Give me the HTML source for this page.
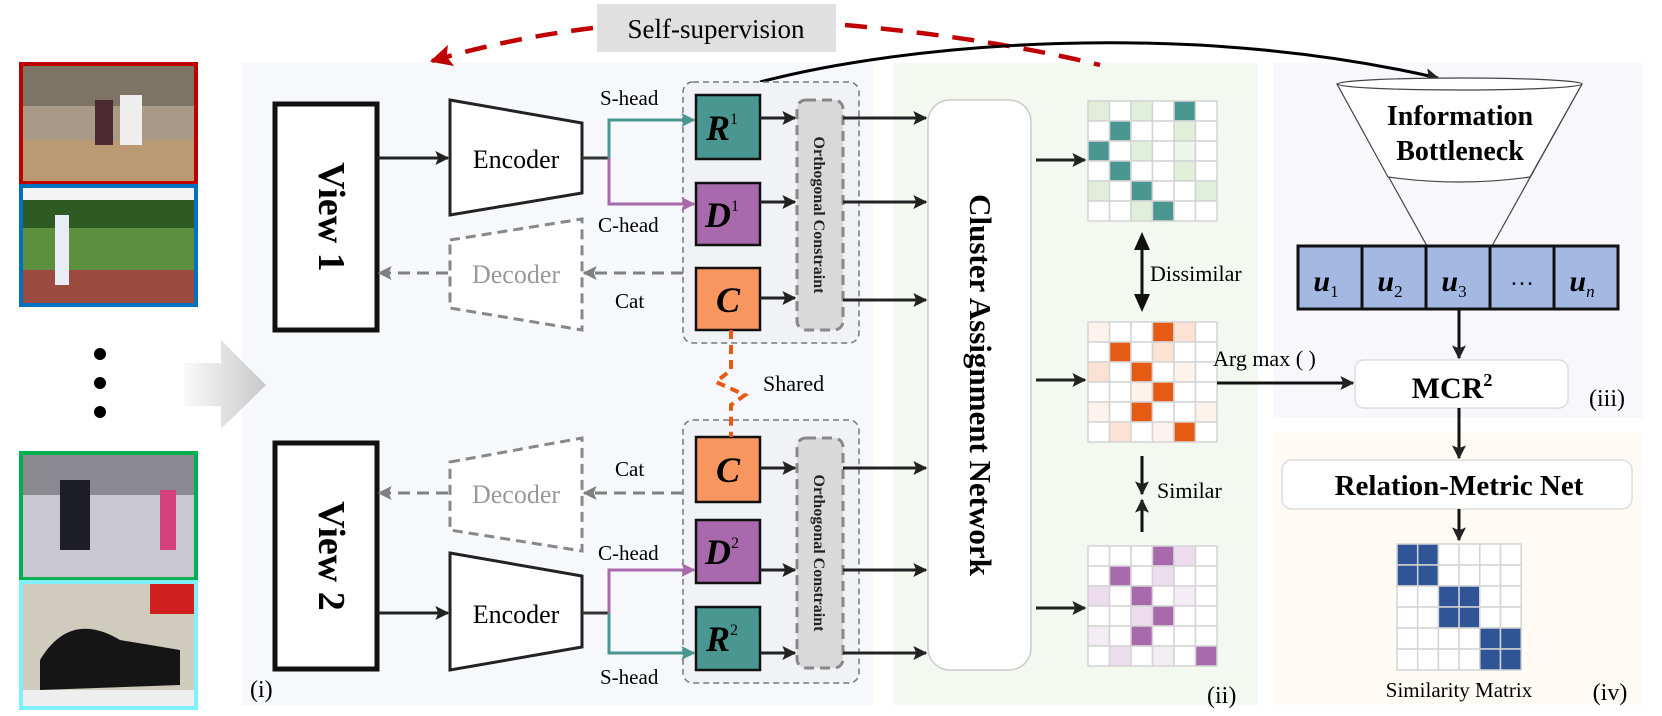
<!DOCTYPE html>
<html><head><meta charset="utf-8"><style>
html,body{margin:0;padding:0;background:#fff}
svg{display:block}
text{font-family:"Liberation Serif","DejaVu Serif",serif}
</style></head><body>
<svg width="1662" height="716" viewBox="0 0 1662 716" xmlns="http://www.w3.org/2000/svg" font-family="Liberation Serif, DejaVu Serif, serif">
<defs>
<marker id="ak" viewBox="0 0 10 10" markerWidth="16" markerHeight="14" refX="9" refY="5" orient="auto" markerUnits="userSpaceOnUse"><path d="M0,0 L10,5 L0,10 L2,5 Z" fill="#222"/></marker>
<marker id="ag" viewBox="0 0 10 10" markerWidth="16" markerHeight="14" refX="9" refY="5" orient="auto" markerUnits="userSpaceOnUse"><path d="M0,0 L10,5 L0,10 L2,5 Z" fill="#808080"/></marker>
<marker id="at" viewBox="0 0 10 10" markerWidth="16" markerHeight="14" refX="9" refY="5" orient="auto" markerUnits="userSpaceOnUse"><path d="M0,0 L10,5 L0,10 L2,5 Z" fill="#4a9690"/></marker>
<marker id="ap" viewBox="0 0 10 10" markerWidth="16" markerHeight="14" refX="9" refY="5" orient="auto" markerUnits="userSpaceOnUse"><path d="M0,0 L10,5 L0,10 L2,5 Z" fill="#a86aad"/></marker>
<marker id="ar" viewBox="0 0 10 10" markerWidth="26" markerHeight="22" refX="9" refY="5" orient="auto" markerUnits="userSpaceOnUse"><path d="M0,0 L10,5 L0,10 L2,5 Z" fill="#c00000"/></marker>
<linearGradient id="gg" x1="0" x2="1"><stop offset="0" stop-color="#fafafa"/><stop offset="1" stop-color="#c8c8c8"/></linearGradient>
</defs>

<rect x="242" y="63" width="631" height="642" fill="#f6f8fc"/>
<rect x="893" y="63" width="365" height="642" fill="#f3f8f0"/>
<rect x="1273" y="63" width="370" height="355" fill="#f8f7fc"/>
<rect x="1273" y="433" width="370" height="272" fill="#fffbf4"/>

<rect x="21" y="64" width="175" height="119" fill="#a89a86" stroke="#c00000" stroke-width="4"/>
<rect x="23" y="66" width="171" height="40" fill="#7d7466"/>
<rect x="23" y="140" width="171" height="41" fill="#b99a72"/>
<rect x="120" y="95" width="22" height="50" fill="#eee"/><rect x="95" y="100" width="18" height="45" fill="#4a2a30"/>
<rect x="21" y="186" width="175" height="119" fill="#5c8f3e" stroke="#0070c0" stroke-width="4"/>
<rect x="23" y="188" width="171" height="12" fill="#f4f4f4"/><rect x="23" y="200" width="171" height="28" fill="#2f5a24"/>
<rect x="23" y="270" width="171" height="33" fill="#9a4a3e"/><rect x="55" y="215" width="14" height="70" fill="#e8ecf4"/>
<rect x="21" y="453" width="175" height="126" fill="#c9c8d0" stroke="#00b050" stroke-width="4"/>
<rect x="23" y="455" width="171" height="40" fill="#8b8a90"/><rect x="60" y="480" width="30" height="70" fill="#1e1e26"/><rect x="160" y="490" width="16" height="60" fill="#d4407a"/>
<rect x="21" y="582" width="175" height="126" fill="#cfcbbd" stroke="#7ff0ff" stroke-width="4"/>
<rect x="150" y="584" width="44" height="30" fill="#d02020"/><path d="M40,660 Q70,610 120,640 L180,650 L180,685 L40,690 Z" fill="#151515"/><rect x="23" y="690" width="171" height="16" fill="#eeeeee"/>
<circle cx="100" cy="354" r="6" fill="#000"/><circle cx="100" cy="383" r="6" fill="#000"/><circle cx="100" cy="412" r="6" fill="#000"/>
<path d="M184,363 L221,363 L221,340 L266,385 L221,429 L221,406 L184,406 Z" fill="url(#gg)"/>

<rect x="597" y="4" width="239" height="48" fill="#e0e0e0"/>
<text x="716" y="38" font-size="27" text-anchor="middle">Self-supervision</text>
<path d="M593,28 Q510,38 432,61" fill="none" stroke="#c00000" stroke-width="4.5" stroke-dasharray="22,14" marker-end="url(#ar)"/>
<path d="M845,25 Q990,38 1100,65" fill="none" stroke="#c00000" stroke-width="4.5" stroke-dasharray="22,14"/>
<path d="M760,82 C900,45 1180,18 1438,78" fill="none" stroke="#000" stroke-width="3" marker-end="url(#ak)"/>

<rect x="275" y="104" width="102" height="226" fill="#fff" stroke="#111" stroke-width="5"/>
<text transform="translate(319,217) rotate(90)" font-size="38" font-weight="bold" text-anchor="middle">View 1</text>
<rect x="275" y="443" width="102" height="226" fill="#fff" stroke="#111" stroke-width="5"/>
<text transform="translate(319,556) rotate(90)" font-size="38" font-weight="bold" text-anchor="middle">View 2</text>

<path d="M450,100 L582,123 L582,193 L450,215 Z" fill="#fff" stroke="#222" stroke-width="3"/>
<text x="516" y="168" font-size="26" text-anchor="middle">Encoder</text>
<path d="M450,240 L582,219 L582,330 L450,308 Z" fill="#fff" stroke="#888" stroke-width="3" stroke-dasharray="10,6"/>
<text x="516" y="283" font-size="26" text-anchor="middle" fill="#999">Decoder</text>
<path d="M450,462 L582,438 L582,551 L450,530 Z" fill="#fff" stroke="#888" stroke-width="3" stroke-dasharray="10,6"/>
<text x="516" y="503" font-size="26" text-anchor="middle" fill="#999">Decoder</text>
<path d="M450,553 L582,576 L582,647 L450,670 Z" fill="#fff" stroke="#222" stroke-width="3"/>
<text x="516" y="623" font-size="26" text-anchor="middle">Encoder</text>

<line x1="377" y1="158" x2="448" y2="158" stroke="#222" stroke-width="3" marker-end="url(#ak)"/>
<line x1="377" y1="613" x2="448" y2="613" stroke="#222" stroke-width="3" marker-end="url(#ak)"/>
<line x1="448" y1="273" x2="379" y2="273" stroke="#808080" stroke-width="3" stroke-dasharray="12,7" marker-end="url(#ag)"/>
<line x1="448" y1="493" x2="379" y2="493" stroke="#808080" stroke-width="3" stroke-dasharray="12,7" marker-end="url(#ag)"/>

<rect x="683" y="82" width="176" height="261" rx="10" fill="#f1f2f6" stroke="#777" stroke-width="1.5" stroke-dasharray="6,4"/>
<rect x="683" y="420" width="176" height="263" rx="10" fill="#f1f2f6" stroke="#777" stroke-width="1.5" stroke-dasharray="6,4"/>

<line x1="683" y1="273" x2="584" y2="273" stroke="#808080" stroke-width="3" stroke-dasharray="12,7" marker-end="url(#ag)"/>
<line x1="683" y1="493" x2="584" y2="493" stroke="#808080" stroke-width="3" stroke-dasharray="12,7" marker-end="url(#ag)"/>

<line x1="582" y1="158" x2="609" y2="158" stroke="#333" stroke-width="3"/>
<path d="M609,158 L609,120 L694,120" fill="none" stroke="#4a9690" stroke-width="3" marker-end="url(#at)"/>
<path d="M609,158 L609,204 L694,204" fill="none" stroke="#a86aad" stroke-width="3" marker-end="url(#ap)"/>
<line x1="582" y1="613" x2="609" y2="613" stroke="#333" stroke-width="3"/>
<path d="M609,613 L609,570 L694,570" fill="none" stroke="#a86aad" stroke-width="3" marker-end="url(#ap)"/>
<path d="M609,613 L609,653 L694,653" fill="none" stroke="#4a9690" stroke-width="3" marker-end="url(#at)"/>
<g font-size="21">
<text x="600" y="105">S-head</text><text x="598" y="232">C-head</text><text x="615" y="308">Cat</text>
<text x="615" y="476">Cat</text><text x="598" y="560">C-head</text><text x="600" y="684">S-head</text>
</g>

<g stroke="#111" stroke-width="2.5">
<rect x="696" y="95" width="64" height="64" fill="#4a9690"/>
<rect x="696" y="183" width="64" height="62" fill="#a86aad"/>
<rect x="696" y="268" width="64" height="62" fill="#f7965f"/>
<rect x="696" y="437" width="64" height="65" fill="#f7965f"/>
<rect x="696" y="520" width="64" height="63" fill="#a86aad"/>
<rect x="696" y="607" width="64" height="63" fill="#4a9690"/>
</g>
<g font-size="36" font-weight="bold" font-style="italic" text-anchor="middle">
<text x="722" y="140">R<tspan font-size="16" font-style="normal" font-weight="normal" dy="-16">1</tspan></text>
<text x="722" y="227">D<tspan font-size="16" font-style="normal" font-weight="normal" dy="-16">1</tspan></text>
<text x="728" y="312">C</text>
<text x="728" y="482">C</text>
<text x="722" y="564">D<tspan font-size="16" font-style="normal" font-weight="normal" dy="-16">2</tspan></text>
<text x="722" y="651">R<tspan font-size="16" font-style="normal" font-weight="normal" dy="-16">2</tspan></text>
</g>

<rect x="797" y="100" width="46" height="230" rx="9" fill="#d9d9d9" stroke="#888" stroke-width="3" stroke-dasharray="10,6"/>
<rect x="797" y="438" width="46" height="230" rx="9" fill="#d9d9d9" stroke="#888" stroke-width="3" stroke-dasharray="10,6"/>
<text transform="translate(814,215) rotate(90)" font-size="16" font-weight="bold" text-anchor="middle" fill="#222">Orthogonal Constraint</text>
<text transform="translate(814,553) rotate(90)" font-size="16" font-weight="bold" text-anchor="middle" fill="#222">Orthogonal Constraint</text>

<g stroke="#222" stroke-width="3">
<line x1="760" y1="118" x2="795" y2="118" marker-end="url(#ak)"/>
<line x1="760" y1="202" x2="795" y2="202" marker-end="url(#ak)"/>
<line x1="760" y1="298" x2="795" y2="298" marker-end="url(#ak)"/>
<line x1="760" y1="468" x2="795" y2="468" marker-end="url(#ak)"/>
<line x1="760" y1="570" x2="795" y2="570" marker-end="url(#ak)"/>
<line x1="760" y1="653" x2="795" y2="653" marker-end="url(#ak)"/>
<line x1="843" y1="118" x2="926" y2="118" marker-end="url(#ak)"/>
<line x1="843" y1="202" x2="926" y2="202" marker-end="url(#ak)"/>
<line x1="843" y1="300" x2="926" y2="300" marker-end="url(#ak)"/>
<line x1="843" y1="468" x2="926" y2="468" marker-end="url(#ak)"/>
<line x1="843" y1="570" x2="926" y2="570" marker-end="url(#ak)"/>
<line x1="843" y1="653" x2="926" y2="653" marker-end="url(#ak)"/>
</g>

<path d="M731,330 L731,370 L716,382 L745,395 L731,405 L731,437" fill="none" stroke="#e55b13" stroke-width="4" stroke-dasharray="9,6"/>
<text x="763" y="391" font-size="22">Shared</text>
<text x="250" y="697" font-size="24">(i)</text>

<rect x="928" y="100" width="103" height="570" rx="22" fill="#fff" stroke="#ccc" stroke-width="1.5"/>
<text transform="translate(970,385) rotate(90)" font-size="31" font-weight="bold" text-anchor="middle">Cluster Assignment Network</text>
<g stroke="#222" stroke-width="3">
<line x1="1036" y1="160" x2="1085" y2="160" marker-end="url(#ak)"/>
<line x1="1036" y1="380" x2="1085" y2="380" marker-end="url(#ak)"/>
<line x1="1036" y1="608" x2="1085" y2="608" marker-end="url(#ak)"/>
</g>

<g stroke="#d4d4d4" stroke-width="1.5">
<rect x="1088" y="101" width="21.5" height="20" fill="#e1eed9"/><rect x="1109.5" y="101" width="21.5" height="20" fill="#fff"/><rect x="1131" y="101" width="21.5" height="20" fill="#e1eed9"/><rect x="1152.5" y="101" width="21.5" height="20" fill="#fff"/><rect x="1174" y="101" width="21.5" height="20" fill="#4a9690"/><rect x="1195.5" y="101" width="21.5" height="20" fill="#fff"/>
<rect x="1088" y="121" width="21.5" height="20" fill="#fff"/><rect x="1109.5" y="121" width="21.5" height="20" fill="#4a9690"/><rect x="1131" y="121" width="21.5" height="20" fill="#fff"/><rect x="1152.5" y="121" width="21.5" height="20" fill="#fff"/><rect x="1174" y="121" width="21.5" height="20" fill="#e1eed9"/><rect x="1195.5" y="121" width="21.5" height="20" fill="#fff"/>
<rect x="1088" y="141" width="21.5" height="20" fill="#4a9690"/><rect x="1109.5" y="141" width="21.5" height="20" fill="#fff"/><rect x="1131" y="141" width="21.5" height="20" fill="#e1eed9"/><rect x="1152.5" y="141" width="21.5" height="20" fill="#fff"/><rect x="1174" y="141" width="21.5" height="20" fill="#eef5ea"/><rect x="1195.5" y="141" width="21.5" height="20" fill="#fff"/>
<rect x="1088" y="161" width="21.5" height="20" fill="#fff"/><rect x="1109.5" y="161" width="21.5" height="20" fill="#4a9690"/><rect x="1131" y="161" width="21.5" height="20" fill="#fff"/><rect x="1152.5" y="161" width="21.5" height="20" fill="#fff"/><rect x="1174" y="161" width="21.5" height="20" fill="#e1eed9"/><rect x="1195.5" y="161" width="21.5" height="20" fill="#fff"/>
<rect x="1088" y="181" width="21.5" height="20" fill="#e1eed9"/><rect x="1109.5" y="181" width="21.5" height="20" fill="#fff"/><rect x="1131" y="181" width="21.5" height="20" fill="#4a9690"/><rect x="1152.5" y="181" width="21.5" height="20" fill="#fff"/><rect x="1174" y="181" width="21.5" height="20" fill="#fff"/><rect x="1195.5" y="181" width="21.5" height="20" fill="#e1eed9"/>
<rect x="1088" y="201" width="21.5" height="20" fill="#fff"/><rect x="1109.5" y="201" width="21.5" height="20" fill="#fff"/><rect x="1131" y="201" width="21.5" height="20" fill="#e1eed9"/><rect x="1152.5" y="201" width="21.5" height="20" fill="#4a9690"/><rect x="1174" y="201" width="21.5" height="20" fill="#fff"/><rect x="1195.5" y="201" width="21.5" height="20" fill="#fff"/>
</g>
<g stroke="#d4d4d4" stroke-width="1.5">
<rect x="1088" y="322" width="21.5" height="20" fill="#fdf3ec"/><rect x="1109.5" y="322" width="21.5" height="20" fill="#fff"/><rect x="1131" y="322" width="21.5" height="20" fill="#fff"/><rect x="1152.5" y="322" width="21.5" height="20" fill="#e55b13"/><rect x="1174" y="322" width="21.5" height="20" fill="#fbe2d2"/><rect x="1195.5" y="322" width="21.5" height="20" fill="#fff"/>
<rect x="1088" y="342" width="21.5" height="20" fill="#fff"/><rect x="1109.5" y="342" width="21.5" height="20" fill="#e55b13"/><rect x="1131" y="342" width="21.5" height="20" fill="#fff"/><rect x="1152.5" y="342" width="21.5" height="20" fill="#fbe2d2"/><rect x="1174" y="342" width="21.5" height="20" fill="#fff"/><rect x="1195.5" y="342" width="21.5" height="20" fill="#fff"/>
<rect x="1088" y="362" width="21.5" height="20" fill="#fbe2d2"/><rect x="1109.5" y="362" width="21.5" height="20" fill="#fff"/><rect x="1131" y="362" width="21.5" height="20" fill="#e55b13"/><rect x="1152.5" y="362" width="21.5" height="20" fill="#fff"/><rect x="1174" y="362" width="21.5" height="20" fill="#fdf3ec"/><rect x="1195.5" y="362" width="21.5" height="20" fill="#fff"/>
<rect x="1088" y="382" width="21.5" height="20" fill="#fff"/><rect x="1109.5" y="382" width="21.5" height="20" fill="#fff"/><rect x="1131" y="382" width="21.5" height="20" fill="#fdf3ec"/><rect x="1152.5" y="382" width="21.5" height="20" fill="#e55b13"/><rect x="1174" y="382" width="21.5" height="20" fill="#fff"/><rect x="1195.5" y="382" width="21.5" height="20" fill="#fff"/>
<rect x="1088" y="402" width="21.5" height="20" fill="#fdf3ec"/><rect x="1109.5" y="402" width="21.5" height="20" fill="#fff"/><rect x="1131" y="402" width="21.5" height="20" fill="#e55b13"/><rect x="1152.5" y="402" width="21.5" height="20" fill="#fff"/><rect x="1174" y="402" width="21.5" height="20" fill="#fff"/><rect x="1195.5" y="402" width="21.5" height="20" fill="#fdf3ec"/>
<rect x="1088" y="422" width="21.5" height="20" fill="#fff"/><rect x="1109.5" y="422" width="21.5" height="20" fill="#fbe2d2"/><rect x="1131" y="422" width="21.5" height="20" fill="#fff"/><rect x="1152.5" y="422" width="21.5" height="20" fill="#fdf3ec"/><rect x="1174" y="422" width="21.5" height="20" fill="#e55b13"/><rect x="1195.5" y="422" width="21.5" height="20" fill="#fff"/>
</g>
<g stroke="#d4d4d4" stroke-width="1.5">
<rect x="1088" y="546" width="21.5" height="20" fill="#fff"/><rect x="1109.5" y="546" width="21.5" height="20" fill="#fff"/><rect x="1131" y="546" width="21.5" height="20" fill="#fff"/><rect x="1152.5" y="546" width="21.5" height="20" fill="#a86aad"/><rect x="1174" y="546" width="21.5" height="20" fill="#ecdcee"/><rect x="1195.5" y="546" width="21.5" height="20" fill="#fff"/>
<rect x="1088" y="566" width="21.5" height="20" fill="#fff"/><rect x="1109.5" y="566" width="21.5" height="20" fill="#a86aad"/><rect x="1131" y="566" width="21.5" height="20" fill="#fff"/><rect x="1152.5" y="566" width="21.5" height="20" fill="#ecdcee"/><rect x="1174" y="566" width="21.5" height="20" fill="#fff"/><rect x="1195.5" y="566" width="21.5" height="20" fill="#fff"/>
<rect x="1088" y="586" width="21.5" height="20" fill="#ecdcee"/><rect x="1109.5" y="586" width="21.5" height="20" fill="#fff"/><rect x="1131" y="586" width="21.5" height="20" fill="#a86aad"/><rect x="1152.5" y="586" width="21.5" height="20" fill="#fff"/><rect x="1174" y="586" width="21.5" height="20" fill="#f4ecf5"/><rect x="1195.5" y="586" width="21.5" height="20" fill="#fff"/>
<rect x="1088" y="606" width="21.5" height="20" fill="#fff"/><rect x="1109.5" y="606" width="21.5" height="20" fill="#fff"/><rect x="1131" y="606" width="21.5" height="20" fill="#ecdcee"/><rect x="1152.5" y="606" width="21.5" height="20" fill="#a86aad"/><rect x="1174" y="606" width="21.5" height="20" fill="#fff"/><rect x="1195.5" y="606" width="21.5" height="20" fill="#fff"/>
<rect x="1088" y="626" width="21.5" height="20" fill="#f4ecf5"/><rect x="1109.5" y="626" width="21.5" height="20" fill="#fff"/><rect x="1131" y="626" width="21.5" height="20" fill="#a86aad"/><rect x="1152.5" y="626" width="21.5" height="20" fill="#fff"/><rect x="1174" y="626" width="21.5" height="20" fill="#fff"/><rect x="1195.5" y="626" width="21.5" height="20" fill="#fff"/>
<rect x="1088" y="646" width="21.5" height="20" fill="#fff"/><rect x="1109.5" y="646" width="21.5" height="20" fill="#ecdcee"/><rect x="1131" y="646" width="21.5" height="20" fill="#fff"/><rect x="1152.5" y="646" width="21.5" height="20" fill="#f4ecf5"/><rect x="1174" y="646" width="21.5" height="20" fill="#fff"/><rect x="1195.5" y="646" width="21.5" height="20" fill="#a86aad"/>
</g>

<line x1="1142" y1="248" x2="1142" y2="296" stroke="#111" stroke-width="3"/>
<path d="M1142,232 L1134,250 L1150,250 Z M1142,312 L1134,294 L1150,294 Z" fill="#111"/>
<line x1="1142" y1="456" x2="1142" y2="494" stroke="#111" stroke-width="3" marker-end="url(#ak)"/>
<line x1="1142" y1="532" x2="1142" y2="500" stroke="#111" stroke-width="3" marker-end="url(#ak)"/>
<text x="1150" y="281" font-size="22">Dissimilar</text>
<text x="1157" y="498" font-size="22">Similar</text>
<text x="1207" y="703" font-size="24">(ii)</text>

<text x="1213" y="366" font-size="22">Arg max ( )</text>
<line x1="1217" y1="383" x2="1353" y2="383" stroke="#111" stroke-width="3" marker-end="url(#ak)"/>

<path d="M1337,84 L1427,246 M1582,84 L1492,246" stroke="#444" stroke-width="1.2" fill="none"/>
<path d="M1337,84 L1388,177 Q1460,187 1530,177 L1582,84 Z" fill="#fff" stroke="#444" stroke-width="1.2"/>
<ellipse cx="1460" cy="84" rx="122" ry="6" fill="#fff" stroke="#444" stroke-width="1.2"/>
<text x="1460" y="125" font-size="28" font-weight="bold" text-anchor="middle">Information</text>
<text x="1460" y="160" font-size="28" font-weight="bold" text-anchor="middle">Bottleneck</text>
<g stroke="#111" stroke-width="3" fill="#a3b9e3">
<rect x="1298" y="246" width="64" height="63"/><rect x="1362" y="246" width="64" height="63"/><rect x="1426" y="246" width="64" height="63"/><rect x="1490" y="246" width="64" height="63"/><rect x="1554" y="246" width="64" height="63"/>
</g>
<g font-size="30" font-weight="bold" font-style="italic" text-anchor="middle">
<text x="1326" y="291">u<tspan font-size="17" font-weight="normal" font-style="normal" dy="6">1</tspan></text>
<text x="1390" y="291">u<tspan font-size="17" font-weight="normal" font-style="normal" dy="6">2</tspan></text>
<text x="1454" y="291">u<tspan font-size="17" font-weight="normal" font-style="normal" dy="6">3</tspan></text>
<text x="1522" y="285" font-weight="normal" font-style="normal" font-size="24">…</text>
<text x="1582" y="291">u<tspan font-size="17" font-weight="normal" dy="6">n</tspan></text>
</g>
<line x1="1459" y1="309" x2="1459" y2="358" stroke="#111" stroke-width="3" marker-end="url(#ak)"/>
<rect x="1355" y="360" width="213" height="48" rx="9" fill="#fff" stroke="#ddd" stroke-width="1.5"/>
<text x="1452" y="398" font-size="30" font-weight="bold" text-anchor="middle">MCR<tspan font-size="18" dy="-12">2</tspan></text>
<text x="1607" y="406" font-size="24" text-anchor="middle">(iii)</text>
<line x1="1459" y1="408" x2="1459" y2="458" stroke="#111" stroke-width="3" marker-end="url(#ak)"/>
<rect x="1282" y="460" width="350" height="49" rx="10" fill="#fff" stroke="#ddd" stroke-width="1.5"/>
<text x="1459" y="495" font-size="29" font-weight="bold" text-anchor="middle">Relation-Metric Net</text>
<line x1="1459" y1="509" x2="1459" y2="540" stroke="#111" stroke-width="3" marker-end="url(#ak)"/>
<g stroke="#d4d4d4" stroke-width="1.5">
<rect x="1397" y="544" width="20.7" height="21" fill="#2f5597"/><rect x="1417.7" y="544" width="20.7" height="21" fill="#2f5597"/><rect x="1438.4" y="544" width="20.7" height="21" fill="#fff"/><rect x="1459.1" y="544" width="20.7" height="21" fill="#fff"/><rect x="1479.8" y="544" width="20.7" height="21" fill="#fff"/><rect x="1500.5" y="544" width="20.7" height="21" fill="#fff"/>
<rect x="1397" y="565" width="20.7" height="21" fill="#2f5597"/><rect x="1417.7" y="565" width="20.7" height="21" fill="#2f5597"/><rect x="1438.4" y="565" width="20.7" height="21" fill="#fff"/><rect x="1459.1" y="565" width="20.7" height="21" fill="#fff"/><rect x="1479.8" y="565" width="20.7" height="21" fill="#fff"/><rect x="1500.5" y="565" width="20.7" height="21" fill="#fff"/>
<rect x="1397" y="586" width="20.7" height="21" fill="#fff"/><rect x="1417.7" y="586" width="20.7" height="21" fill="#fff"/><rect x="1438.4" y="586" width="20.7" height="21" fill="#2f5597"/><rect x="1459.1" y="586" width="20.7" height="21" fill="#2f5597"/><rect x="1479.8" y="586" width="20.7" height="21" fill="#fff"/><rect x="1500.5" y="586" width="20.7" height="21" fill="#fff"/>
<rect x="1397" y="607" width="20.7" height="21" fill="#fff"/><rect x="1417.7" y="607" width="20.7" height="21" fill="#fff"/><rect x="1438.4" y="607" width="20.7" height="21" fill="#2f5597"/><rect x="1459.1" y="607" width="20.7" height="21" fill="#2f5597"/><rect x="1479.8" y="607" width="20.7" height="21" fill="#fff"/><rect x="1500.5" y="607" width="20.7" height="21" fill="#fff"/>
<rect x="1397" y="628" width="20.7" height="21" fill="#fff"/><rect x="1417.7" y="628" width="20.7" height="21" fill="#fff"/><rect x="1438.4" y="628" width="20.7" height="21" fill="#fff"/><rect x="1459.1" y="628" width="20.7" height="21" fill="#fff"/><rect x="1479.8" y="628" width="20.7" height="21" fill="#2f5597"/><rect x="1500.5" y="628" width="20.7" height="21" fill="#2f5597"/>
<rect x="1397" y="649" width="20.7" height="21" fill="#fff"/><rect x="1417.7" y="649" width="20.7" height="21" fill="#fff"/><rect x="1438.4" y="649" width="20.7" height="21" fill="#fff"/><rect x="1459.1" y="649" width="20.7" height="21" fill="#fff"/><rect x="1479.8" y="649" width="20.7" height="21" fill="#2f5597"/><rect x="1500.5" y="649" width="20.7" height="21" fill="#2f5597"/>
</g>
<text x="1459" y="697" font-size="21" text-anchor="middle">Similarity Matrix</text>
<text x="1610" y="700" font-size="24" text-anchor="middle">(iv)</text>
</svg>
</body></html>
